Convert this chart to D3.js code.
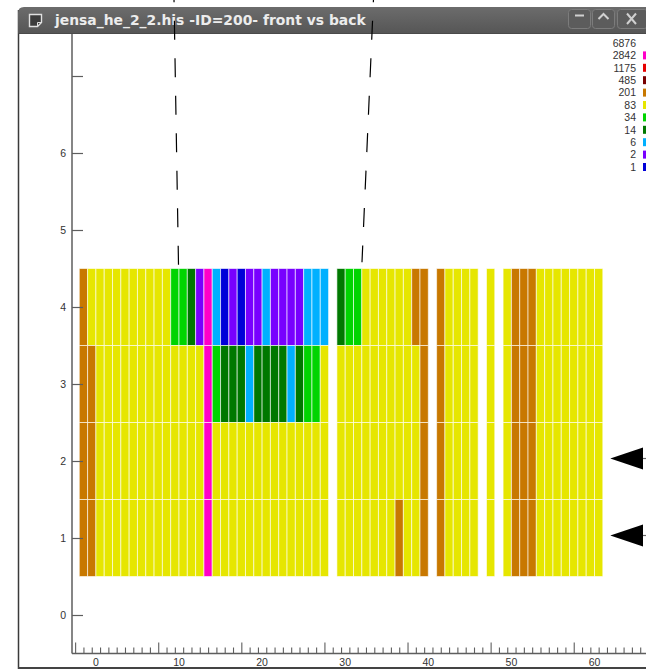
<!DOCTYPE html>
<html>
<head>
<meta charset="utf-8">
<script src="https://cdn.jsdelivr.net/npm/d3@7"></script>
<style>
  html, body { margin: 0; padding: 0; background: #fff; }
  svg { display: block; }
</style>
</head>
<body>
<svg id="chart" width="646" height="671"></svg>
<script>
// Colour levels of the front-vs-back hit map (legend labels, high to low)
const levelLabels = [6876, 2842, 1175, 485, 201, 83, 34, 14, 6, 2, 1];
const levelColors = [null, "#ff00c8", "#e60000", "#780000", "#c87800", "#e6e600",
                     "#00d400", "#007800", "#00b0ff", "#7800ff", "#0000d8"];

// Back-plane rows (y) and front-strip channels (x); channel 0 sits at x = -2
const rowValues = [4, 3, 2, 1];
const firstChannel = -2;

// Counts per channel for each row (null = channel not read out)
const row4 = [236,
  148, 162, 137, 171, 155, 129, 144, 166, 118, 103,
  58, 44, 21, 3, 3350, 8, 1, 4, 1, 3, 2, 7, 3, 2, 4, 3, 9, 7, 11,
  null,
  19, 47, 39,
  131, 152, 146, 168, 139, 157,
  214, 286,
  null,
  248,
  162, 149, 173, 158,
  null, 95, null, 141,
  262, 305, 271,
  153, 166, 148, 171, 159, 144, 137, 128];
const row3 = [258, 224,
  176, 163, 158, 181, 149, 172, 165, 153, 178, 160, 144, 139, 126,
  5120, 49, 26, 31, 24, 12, 29, 23, 27, 18, 10, 16, 42, 36, 97,
  null,
  132, 147, 158, 166, 151, 174, 163, 170, 155, 188,
  297,
  null,
  276,
  171, 160, 182, 165,
  null, 104, null, 152,
  289, 334, 301,
  168, 175, 162, 179, 170, 158, 149, 136];
const row2 = [271, 243,
  183, 171, 166, 187, 158, 179, 172, 164, 185, 169, 156, 150, 141,
  6876,
  162, 175, 181, 168, 177, 184, 170, 165, 179, 173, 160, 168, 152, 121,
  null,
  145, 158, 167, 176, 163, 182, 171, 178, 164, 192,
  318,
  null,
  292,
  180, 168, 189, 174,
  null, 112, null, 160,
  306, 352, 318,
  177, 183, 170, 186, 178, 166, 158, 143];
const row1 = [247, 229,
  168, 157, 151, 172, 146, 164, 158, 149, 170, 154, 141, 136, 122,
  4480,
  148, 161, 166, 154, 163, 170, 157, 151, 165, 159, 147, 154, 139, 108,
  null,
  131, 143, 152, 161, 149, 167, 156, 215, 150, 176,
  284,
  null,
  263,
  165, 154, 173, 160,
  null, 99, null, 146,
  281, 323, 292,
  162, 168, 156, 171, 163, 152, 145, 131];

// Axis ticks
const xLabelValues = [0, 10, 20, 30, 40, 50, 60];
const yTickValues = [0, 1, 2, 3, 4, 5, 6, 7];
const yLabelled = [0, 1, 2, 3, 4, 5, 6];

// Rows flagged with arrows on the right edge
const flaggedRows = [2, 1];

// Dashed guide lines (x, y in axis units)
const guides = [
  [[9.40, 7.99], [9.94, 4.55]],
  [[33.40, 7.99], [32.02, 4.58]]
];

const titleText = "jensa_he_2_2.his -ID=200- front vs back";

const svg = d3.select("#chart");

const x = d3.scaleLinear().domain([0, 60]).range([95.9, 594.5]);
const y = d3.scaleLinear().domain([0, 7]).range([615, 76]);

const color = d3.scaleThreshold()
  .domain(levelLabels.slice(1, -1).slice().reverse())
  .range(levelColors.slice(1).slice().reverse());

// ---- window frame ----
svg.append("rect").attr("x", 0).attr("y", 0).attr("width", 646).attr("height", 671).attr("fill", "#fff");

const defs = svg.append("defs");
const grad = defs.append("linearGradient").attr("id", "titleGrad")
  .attr("x1", 0).attr("y1", 0).attr("x2", 0).attr("y2", 1);
grad.append("stop").attr("offset", "0%").attr("stop-color", "#6c6c6c");
grad.append("stop").attr("offset", "100%").attr("stop-color", "#565656");

// left and bottom border of the window
svg.append("line").attr("x1", 18.5).attr("x2", 18.5).attr("y1", 10).attr("y2", 669)
  .attr("stroke", "#3a3a3a").attr("stroke-width", 1.5);
svg.append("line").attr("x1", 18).attr("x2", 646).attr("y1", 668).attr("y2", 668)
  .attr("stroke", "#444", ).attr("stroke-width", 2);

// ---- plot ----
const plot = svg.append("g");

// cells
const rows = [row4, row3, row2, row1];
const cells = [];
rows.forEach((arr, r) => {
  arr.forEach((v, i) => {
    if (v !== null) cells.push({ row: rowValues[r], ch: firstChannel + i, v });
  });
});

plot.append("g").selectAll("rect").data(cells).join("rect")
  .attr("x", d => x(d.ch))
  .attr("width", d => x(d.ch + 1) - x(d.ch))
  .attr("y", d => y(d.row + 0.5))
  .attr("height", d => y(d.row - 0.5) - y(d.row + 0.5))
  .attr("fill", d => color(d.v))
  .attr("stroke", "#ffffff")
  .attr("stroke-opacity", 0.6)
  .attr("stroke-width", 1);

// y axis
const axisColor = "#5e5e5e";
plot.append("line").attr("x1", 72).attr("x2", 72).attr("y1", 33).attr("y2", 653.5)
  .attr("stroke", axisColor).attr("stroke-width", 1.5);
const yAxis = plot.append("g").attr("transform", "translate(72,0)")
  .call(d3.axisLeft(y).tickValues(yTickValues).tickSizeInner(-11).tickSizeOuter(0).tickPadding(6)
    .tickFormat(d => yLabelled.includes(d) ? d : ""));
yAxis.select(".domain").remove();
yAxis.selectAll(".tick line").attr("stroke", axisColor).attr("stroke-width", 1.2);
yAxis.selectAll(".tick text").attr("font-family", "Liberation Sans, Arial, sans-serif")
  .attr("font-size", 10.5).attr("fill", "#333");

// x axis: ruler ticks at channel centres, labels at round values
plot.append("line").attr("x1", 72).attr("x2", 646).attr("y1", 653.5).attr("y2", 653.5)
  .attr("stroke", axisColor).attr("stroke-width", 1.5);
const minorTicks = d3.range(-2.5, 66, 1);
const majorTicks = minorTicks.filter(v => Math.round(v - 7.5) % 10 === 0);
const xMinor = plot.append("g").attr("transform", "translate(0,653.5)")
  .call(d3.axisTop(x).tickValues(minorTicks.filter(v => !majorTicks.includes(v)))
    .tickSizeInner(6).tickSizeOuter(0).tickFormat(""));
const xMajor = plot.append("g").attr("transform", "translate(0,653.5)")
  .call(d3.axisTop(x).tickValues(majorTicks).tickSizeInner(11).tickSizeOuter(0).tickFormat(""));
[xMinor, xMajor].forEach(g => {
  g.select(".domain").remove();
  g.selectAll(".tick line").attr("stroke", axisColor).attr("stroke-width", 1.1);
});
plot.append("g").selectAll("text").data(xLabelValues).join("text")
  .attr("x", d => x(d)).attr("y", 665.5)
  .attr("text-anchor", "middle")
  .attr("font-family", "Liberation Sans, Arial, sans-serif")
  .attr("font-size", 10.5).attr("fill", "#333")
  .text(d => d);

// legend
const legend = svg.append("g");
levelLabels.forEach((lab, i) => {
  const cy = 43 + i * 12.4;
  legend.append("text").attr("x", 636).attr("y", cy + 3.8)
    .attr("text-anchor", "end")
    .attr("font-family", "Liberation Sans, Arial, sans-serif")
    .attr("font-size", 10.5).attr("fill", "#333")
    .text(lab);
  if (levelColors[i]) {
    legend.append("rect").attr("x", 643).attr("y", cy - 4).attr("width", 6).attr("height", 8)
      .attr("fill", levelColors[i]);
  }
});

// arrows marking flagged rows
const arrows = svg.append("g");
flaggedRows.forEach(r => {
  const cy = y(r) - 2.5;
  arrows.append("path")
    .attr("d", `M${x(61.9)},${cy} L643,${cy - 11} L643,${cy + 11} Z`)
    .attr("fill", "#000");
  arrows.append("line").attr("x1", 643).attr("x2", 646).attr("y1", cy).attr("y2", cy)
    .attr("stroke", "#666").attr("stroke-width", 1.2);
});

// ---- title bar ----
const tb = svg.append("g");
tb.append("path")
  .attr("d", "M18,33 L18,13 Q18,7 24,7 L646,7 L646,33 Z")
  .attr("fill", "url(#titleGrad)");
tb.append("line").attr("x1", 18).attr("x2", 646).attr("y1", 33.5).attr("y2", 33.5)
  .attr("stroke", "#4a4a4a").attr("stroke-width", 1);

// window icon
tb.append("path")
  .attr("d", "M29.5,14.5 h12 v8 l-4,4 h-8 Z")
  .attr("fill", "#3c3c3c").attr("stroke", "#e0e0e0").attr("stroke-width", 1.4);
tb.append("path")
  .attr("d", "M41.5,22.5 h-4 v4")
  .attr("fill", "none").attr("stroke", "#e0e0e0").attr("stroke-width", 1);

const title = tb.append("text")
  .attr("x", 55).attr("y", 25)
  .attr("font-family", "DejaVu Sans, sans-serif")
  .attr("font-weight", "bold")
  .attr("font-size", 12.5)
  .attr("fill", "#ececec")
  .text(titleText);
const tl = title.node().getComputedTextLength();
if (tl > 0) title.attr("font-size", 12.5 * 311 / tl);

// window buttons
const btns = [[568, 591], [592, 615], [617, 648]];
btns.forEach(([a, b]) => {
  tb.append("rect").attr("x", a + 0.5).attr("y", 9.5).attr("width", b - a - 1).attr("height", 19)
    .attr("rx", 3).attr("fill", "#5c5c5c").attr("stroke", "#7c7c7c").attr("stroke-width", 1);
});
tb.append("line").attr("x1", 575).attr("x2", 584).attr("y1", 15.5).attr("y2", 15.5)
  .attr("stroke", "#d0d0d0").attr("stroke-width", 2);
tb.append("path").attr("d", "M598.5,19 L603.5,14 L608.5,19")
  .attr("fill", "none").attr("stroke", "#d0d0d0").attr("stroke-width", 2);
tb.append("path").attr("d", "M627,13.5 L636,24 M636,13.5 L627,24")
  .attr("fill", "none").attr("stroke", "#d0d0d0").attr("stroke-width", 2);

// dashed guide lines on top
svg.append("g").selectAll("line").data(guides).join("line")
  .attr("x1", d => x(d[0][0])).attr("y1", d => y(d[0][1]))
  .attr("x2", d => x(d[1][0])).attr("y2", d => y(d[1][1]))
  .attr("stroke", "#000").attr("stroke-width", 1.2)
  .attr("stroke-dasharray", "19 18.5")
  .attr("stroke-dashoffset", 16.5);
</script>
</body>
</html>
